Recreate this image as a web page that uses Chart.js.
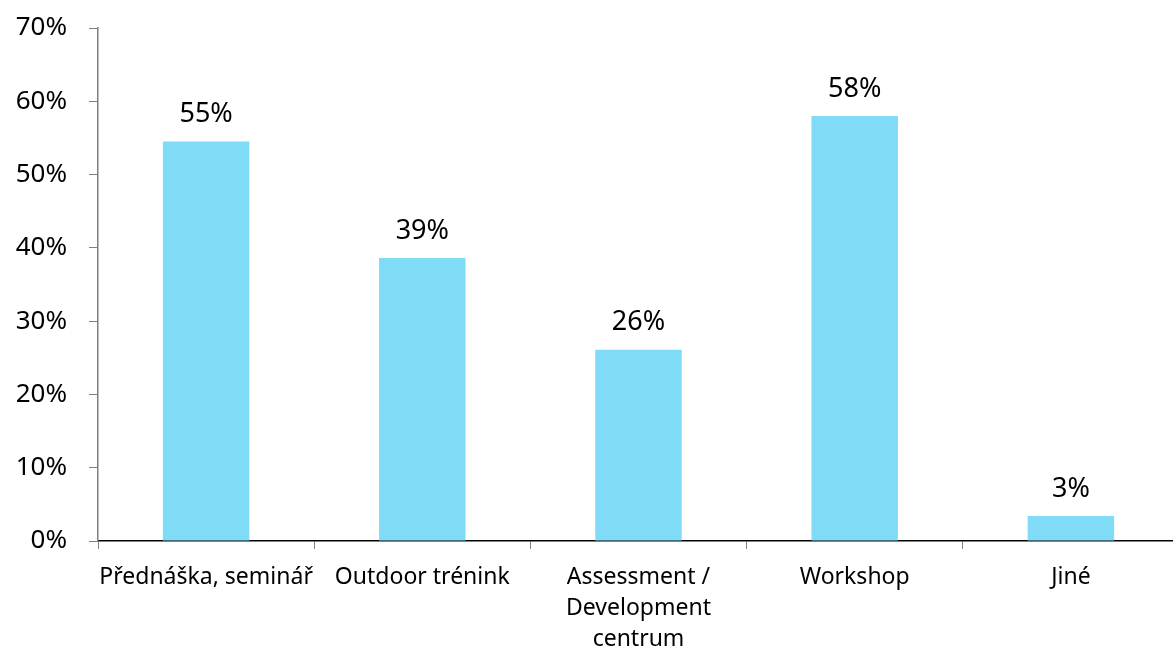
<!DOCTYPE html>
<html>
<head>
<meta charset="utf-8">
<script src="https://cdn.jsdelivr.net/npm/chart.js@4.4.1/dist/chart.umd.min.js"></script>
<style>
  html, body { margin: 0; padding: 0; background: #fff; overflow: hidden; }
  #wrap { width: 1179px; height: 650px; }
</style>
</head>
<body>
<div id="wrap"><canvas id="forms_chart"></canvas></div>
<script>
var categories = [
    "Přednáška, seminář",
    "Outdoor trénink",
    ["Assessment /", "Development", "centrum"],
    "Workshop",
    "Jiné"
];
var shares = [54.5, 38.6, 26.1, 58.0, 3.4];
var yTicks = [0, 10, 20, 30, 40, 50, 60, 70];

var FONT = "'Noto Sans', 'Open Sans', sans-serif";

// writes the percentage over each bar
var barValues = {
    id: "barValues",
    afterDatasetsDraw: function (chart) {
        var ctx = chart.ctx;
        var meta = chart.getDatasetMeta(0);
        ctx.save();
        ctx.font = "27px " + FONT;
        ctx.fillStyle = "#000";
        ctx.textAlign = "center";
        ctx.textBaseline = "middle";
        meta.data.forEach(function (bar, i) {
            var v = chart.data.datasets[0].data[i];
            ctx.fillText(Math.round(v) + "%", bar.x, bar.y - 27);
        });
        ctx.restore();
    }
};

var ctx = document.getElementById("forms_chart");
var chart = new Chart(ctx, {
    type: "bar",
    data: {
        labels: categories,
        datasets: [{
            data: shares,
            backgroundColor: "#80dbf7",
            categoryPercentage: 0.4,
            barPercentage: 1.0
        }]
    },
    options: {
        responsive: true,
        maintainAspectRatio: false,
        animation: false,
        layout: { padding: { top: 28, right: 0, bottom: 0, left: 0 } },
        plugins: {
            legend: { display: false },
            tooltip: { enabled: false }
        },
        scales: {
            x: {
                offset: true,
                grid: {
                    offset: true,
                    drawOnChartArea: false,
                    drawTicks: true,
                    tickLength: 8,
                    color: "#7f7f7f"
                },
                border: { color: "#000", width: 1.5 },
                ticks: {
                    color: "#000",
                    padding: 13,
                    maxRotation: 0,
                    autoSkip: false,
                    font: { family: FONT, size: 23, lineHeight: 1.35 }
                },
                afterFit: function (scale) { scale.height = 109; }
            },
            y: {
                min: 0,
                max: 70,
                afterBuildTicks: function (scale) {
                    scale.ticks = yTicks.map(function (v) { return { value: v }; });
                },
                grid: {
                    drawOnChartArea: false,
                    drawTicks: true,
                    tickLength: 9,
                    color: "#7f7f7f"
                },
                border: { color: "#7f7f7f", width: 1.5 },
                ticks: {
                    color: "#000",
                    padding: 22,
                    font: { family: FONT, size: 26 },
                    callback: function (v) { return v + "%"; }
                },
                afterFit: function (scale) {
                    scale.width = 98;
                    // top/bottom room comes from layout.padding only
                    scale.paddingTop = 0;
                    scale.paddingBottom = 0;
                }
            }
        }
    },
    plugins: [barValues]
});
</script>
</body>
</html>
